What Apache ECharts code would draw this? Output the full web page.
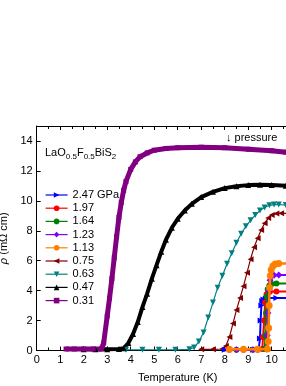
<!DOCTYPE html>
<html><head><meta charset="utf-8">
<script src="https://cdn.jsdelivr.net/npm/echarts@6/dist/echarts.min.js"></script>
<style>html,body{margin:0;padding:0;background:#fff}#c{width:286px;height:386px}</style>
</head><body><div id="c"></div>
<script>
// ---- data (Temperature K, resistivity mΩ cm) ----
var names = ['2.47 GPa','1.97','1.64','1.23','1.13','0.75','0.63','0.47','0.31'];
var T_247 = [8.0,8.6,9.2,9.45,9.5,9.53,9.56,9.6,9.65,9.75,9.9,10.2,10.8];
var R_247 = [0.05,0.05,0.05,0.1,0.8,2.0,3.0,3.3,3.4,3.48,3.5,3.5,3.5];
var T_197 = [8.2,8.8,9.4,9.6,9.63,9.68,9.72,9.78,9.84,9.92,10.2,10.8];
var R_197 = [0.05,0.05,0.05,0.1,0.9,2.0,3.2,3.75,3.88,3.93,3.95,3.95];
var T_164 = [8.5,9.2,9.7,9.73,9.76,9.79,9.83,9.9,10.0,10.2,10.8];
var R_164 = [0.05,0.05,0.1,1.0,2.5,3.6,4.1,4.35,4.45,4.48,4.48];
var T_123 = [8.5,9.2,9.78,9.81,9.84,9.88,9.93,10.0,10.1,10.3,10.8];
var R_123 = [0.05,0.05,0.1,1.0,2.5,4.0,4.7,4.95,5.02,5.05,5.05];
var T_113 = [8.2,8.8,9.4,9.82,9.85,9.87,9.89,9.91,9.94,9.98,10.05,10.15,10.3,10.8];
var R_113 = [0.08,0.08,0.08,0.1,0.6,1.5,3.0,4.2,5.0,5.4,5.65,5.78,5.82,5.82];
var T_075 = [7.0,7.5,7.9,8.05,8.2,8.35,8.5,8.65,8.8,8.95,9.1,9.25,9.4,9.55,9.7,9.85,10.0,10.2,10.4,10.8];
var R_075 = [0.08,0.08,0.1,0.3,0.9,1.8,2.7,3.5,4.3,5.2,6.1,6.9,7.5,8.05,8.5,8.85,9.05,9.15,9.17,9.15];
var T_063 = [3.8,4.5,5.2,5.9,6.5,6.7,6.9,7.1,7.3,7.5,7.7,7.9,8.1,8.3,8.5,8.7,8.9,9.1,9.3,9.5,9.7,9.9,10.1,10.3,10.6];
var R_063 = [0.05,0.05,0.05,0.05,0.08,0.2,0.6,1.2,2.2,3.2,4.2,5.0,5.8,6.5,7.2,7.8,8.3,8.7,9.05,9.35,9.55,9.7,9.75,9.75,9.72];
var T_047 = [2.0,2.5,3.0,3.5,3.7,3.9,4.1,4.3,4.5,4.7,4.9,5.1,5.3,5.5,5.75,6.0,6.3,6.6,7.0,7.5,8.0,8.5,9.0,9.5,10.0,10.6];
var R_047 = [0.08,0.08,0.08,0.1,0.15,0.5,1.1,1.9,2.9,3.8,4.8,5.7,6.6,7.4,8.2,8.8,9.35,9.8,10.25,10.6,10.85,10.98,11.05,11.08,11.06,11.0];
var T_031 = [1.25,1.6,2.0,2.4,2.75,2.85,3.0,3.1,3.2,3.3,3.4,3.5,3.6,3.7,3.8,4.0,4.2,4.4,4.7,5.0,5.5,6.0,7.0,8.0,9.0,10.0,10.6];
var R_031 = [0.1,0.1,0.1,0.1,0.1,0.5,2.3,3.5,4.8,6.2,7.6,8.9,9.9,10.7,11.3,12.1,12.6,12.95,13.2,13.38,13.5,13.55,13.58,13.55,13.45,13.35,13.25];
var xTicks = {min:0, max:12, interval:1};
var yTicks = {min:0, max:15, interval:2};

function pairs(t, r){ return t.map(function(v,i){ return [v, r[i]]; }); }

var styles = [
  {c:'#0000FF', s:'triangle', rot:-90, size:6, w:2, z:3},
  {c:'#FF0000', s:'circle', rot:0, size:6, w:2, z:4},
  {c:'#008000', s:'circle', rot:0, size:6, w:2, z:5},
  {c:'#8000FF', s:'diamond', rot:0, size:7, w:2, z:6},
  {c:'#FF8000', s:'circle', rot:0, size:7, w:2.5, z:7},
  {c:'#800000', s:'triangle', rot:90, size:6, w:1.2, z:2},
  {c:'#008080', s:'triangle', rot:180, size:6, w:1.2, z:2},
  {c:'#000000', s:'triangle', rot:0, size:6, w:4, z:2},
  {c:'#800080', s:'rect', rot:0, size:5, w:5, z:2}
];
var dataSets = [pairs(T_247,R_247),pairs(T_197,R_197),pairs(T_164,R_164),pairs(T_123,R_123),pairs(T_113,R_113),
  pairs(T_075,R_075),pairs(T_063,R_063),pairs(T_047,R_047),pairs(T_031,R_031)];

var series = names.map(function(n,i){
  var st = styles[i];
  return {
    name:n, type:'line', data:dataSets[i], xAxisIndex:0, yAxisIndex:0,
    symbol:st.s, symbolSize:st.size, symbolRotate:st.rot, showSymbol:true,
    lineStyle:{color:st.c, width:st.w}, itemStyle:{color:st.c},
    z:st.z, silent:true, clip:true
  };
});

var font = 'Liberation Sans, Arial, sans-serif';
var chart = echarts.init(document.getElementById('c'), null, {renderer:'canvas'});
chart.setOption({
  animation:false,
  backgroundColor:'#fff',
  textStyle:{fontFamily:font},
  grid:{left:36.7, top:126, width:282, bottom:35.5, show:false, containLabel:false, outerBoundsMode:'none'},
  legend:{
    orient:'vertical', left:45, top:189, padding:0, itemWidth:22, itemHeight:7, itemGap:1.2,
    lineStyle:{width:1.2},
    textStyle:{fontFamily:font, fontSize:11, lineHeight:12, color:'#000'},
    data:names
  },
  xAxis:[{
    type:'value', position:'bottom', min:xTicks.min, max:xTicks.max, interval:xTicks.interval,
    name:'Temperature (K)', nameLocation:'middle', nameGap:22,
    nameTextStyle:{fontFamily:font, fontSize:11, color:'#000'},
    axisLine:{show:true, lineStyle:{color:'#000', width:1}},
    axisTick:{show:true, inside:true, length:4, lineStyle:{color:'#000'}},
    minorTick:{show:true, splitNumber:2, length:3, lineStyle:{color:'#000'}},
    axisLabel:{fontFamily:font, fontSize:11, color:'#000', margin:4},
    splitLine:{show:false}
  },{
    type:'value', position:'top', min:xTicks.min, max:xTicks.max, interval:xTicks.interval,
    axisLine:{show:true, onZero:false, lineStyle:{color:'#000', width:1}},
    axisTick:{show:true, inside:true, length:4, lineStyle:{color:'#000'}},
    minorTick:{show:true, splitNumber:2, length:3, lineStyle:{color:'#000'}},
    axisLabel:{show:false}, splitLine:{show:false}
  }],
  yAxis:[{
    type:'value', min:yTicks.min, max:yTicks.max, interval:yTicks.interval,
    name:'{i|ρ} (mΩ cm)', nameLocation:'middle', nameGap:18, nameRotate:90,
    nameTextStyle:{fontFamily:font, fontSize:11, color:'#000', rich:{i:{fontStyle:'italic', fontFamily:font, fontSize:11}}},
    axisLine:{show:true, lineStyle:{color:'#000', width:1}},
    axisTick:{show:true, inside:true, length:4, lineStyle:{color:'#000'}},
    minorTick:{show:false},
    axisLabel:{fontFamily:font, fontSize:11, color:'#000', margin:4, showMaxLabel:false},
    splitLine:{show:false}
  }],
  graphic:[
    {type:'text', left:45, top:147, style:{
      text:'{m|LaO}{s|0.5}{m|F}{s|0.5}{m|BiS}{s|2}{h| }', fill:'#000',
      rich:{m:{fontFamily:font, fontSize:11, lineHeight:11, verticalAlign:'top'},
            s:{fontFamily:font, fontSize:8, lineHeight:8, verticalAlign:'bottom'},
            h:{fontFamily:font, fontSize:2, lineHeight:14}}
    }},
    {type:'text', left:226, top:132, style:{text:'↓ pressure', fill:'#000', font:'11px '+font}}
  ],
  series:series
});
</script></body></html>
